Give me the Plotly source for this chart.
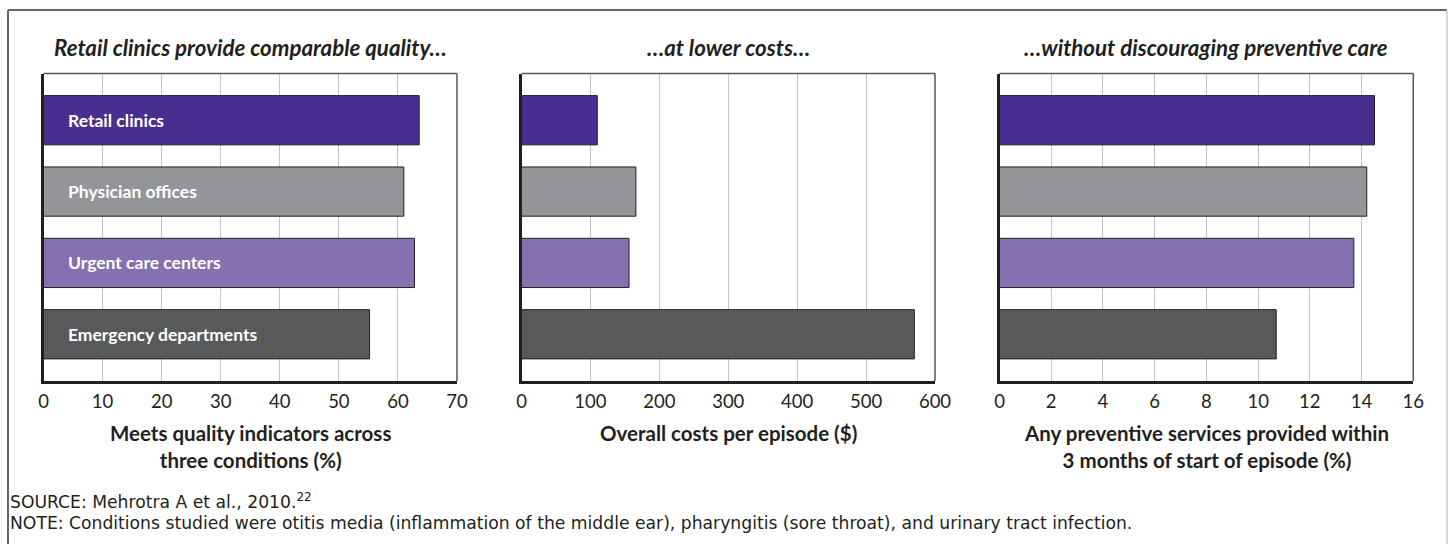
import plotly.graph_objects as go

# Care settings, listed top to bottom
settings = ["Retail clinics", "Physician offices", "Urgent care centers", "Emergency departments"]
colors = ["#482E8E", "#939598", "#8570B0", "#58595B"]

# Panel values
quality_pct = [63.6, 61.0, 62.8, 55.2]
cost_usd = [110, 166, 156, 570]
preventive_pct = [14.5, 14.2, 13.7, 10.7]

panel_titles = [
    "Retail clinics provide comparable quality…",
    "…at lower costs…",
    "…without discouraging preventive care",
]
axis_titles = [
    "Meets quality indicators across<br>three conditions (%)",
    "Overall costs per episode ($)",
    "Any preventive services provided within<br>3 months of start of episode (%)",
]
x_ranges = [[0, 70], [0, 600], [0, 16]]
x_dtick = [10, 100, 2]

source_text = "SOURCE: Mehrotra A et al., 2010.<sup>22</sup>"
note_text = ("NOTE: Conditions studied were otitis media (inflammation of the middle ear), "
             "pharyngitis (sore throat), and urinary tract infection.")

W, H = 1450, 544
FONT = "Lato"
NOTE_FONT = "DejaVu Sans"
INK = "#231F20"

# plot-area pixel boxes (left, right) and shared top/bottom
x_px = [(43.5, 457.0), (521.5, 935.0), (999.5, 1413.3)]
top_px, bot_px = 73.5, 381.0

fig = go.Figure()
series = [quality_pct, cost_usd, preventive_pct]

for i, vals in enumerate(series):
    n = "" if i == 0 else str(i + 1)
    fig.add_trace(go.Bar(
        x=vals, y=settings, orientation="h",
        marker=dict(color=colors, line=dict(color=INK, width=1)),
        width=0.69, xaxis="x" + n, yaxis="y" + n,
        showlegend=False, hoverinfo="x+y",
    ))
    l, r = x_px[i]
    fig.update_layout(**{
        "xaxis" + n: dict(
            domain=[l / W, r / W], range=x_ranges[i], dtick=x_dtick[i], tick0=0,
            showgrid=True, gridcolor="#C4C4C4", gridwidth=1, zeroline=False,
            showline=True, linecolor=INK, linewidth=3,
            ticks="", ticklabelstandoff=2,
            tickfont=dict(family=FONT, size=18.5, color=INK),
            anchor="y" + n, fixedrange=True,
        ),
        "yaxis" + n: dict(
            domain=[(H - bot_px) / H, (H - top_px) / H],
            categoryorder="array", categoryarray=settings,
            range=[3.655, -0.655], showticklabels=False, ticks="",
            showgrid=False, zeroline=False,
            showline=True, linecolor=INK, linewidth=3,
            anchor="x" + n, fixedrange=True,
        ),
    })
    # thin frame on the top and right of each plot area
    fig.add_shape(type="line", xref="x" + n + " domain", yref="y" + n + " domain",
                  x0=0, x1=1, y0=1, y1=1, line=dict(color="#555555", width=1.5))
    fig.add_shape(type="line", xref="x" + n + " domain", yref="y" + n + " domain",
                  x0=1, x1=1, y0=0, y1=1, line=dict(color="#555555", width=1.5))
    # panel heading
    fig.add_annotation(text="<b><i>" + panel_titles[i] + "</i></b>", xref="paper", yref="paper",
                       x=(l + r) / 2 / W, y=(H - 47) / H, xanchor="center", yanchor="middle",
                       showarrow=False, font=dict(family=FONT, size=22.3, color=INK))
    # axis title under tick labels
    fig.add_annotation(text="<b>" + axis_titles[i] + "</b>", xref="paper", yref="paper",
                       x=(l + r) / 2 / W, y=(H - 419) / H, xanchor="center", yanchor="top",
                       showarrow=False, align="center",
                       font=dict(family=FONT, size=20.5, color=INK))

# setting names written inside the first panel's bars
for name in settings:
    fig.add_annotation(text="<b>" + name + "</b>", x=0, y=name, xref="x", yref="y",
                       xanchor="left", yanchor="middle", xshift=22, showarrow=False,
                       font=dict(family=FONT, size=17.5, color="white"))

fig.add_annotation(text=source_text, xref="paper", yref="paper", x=8 / W, y=(H - 501) / H,
                   xanchor="left", yanchor="middle", showarrow=False,
                   font=dict(family=NOTE_FONT, size=17.2, color=INK))
fig.add_annotation(text=note_text, xref="paper", yref="paper", x=8 / W, y=(H - 522.5) / H,
                   xanchor="left", yanchor="middle", showarrow=False,
                   font=dict(family=NOTE_FONT, size=17.2, color=INK))

# outer frame
fig.add_shape(type="line", xref="paper", yref="paper", x0=8 / W, x1=1447 / W,
              y0=(H - 10) / H, y1=(H - 10) / H, line=dict(color="#666666", width=2))
fig.add_shape(type="line", xref="paper", yref="paper", x0=8 / W, x1=8 / W,
              y0=0, y1=(H - 10) / H, line=dict(color="#666666", width=2))
fig.add_shape(type="line", xref="paper", yref="paper", x0=1447 / W, x1=1447 / W,
              y0=0, y1=(H - 10) / H, line=dict(color="#CCCCCC", width=1.5))

fig.update_layout(
    width=W, height=H, autosize=False,
    margin=dict(l=0, r=0, t=0, b=0, pad=0, autoexpand=False),
    paper_bgcolor="white", plot_bgcolor="white",
    bargap=0.3, font=dict(family=FONT, color=INK),
)

fig.write_html("out.html", config={"responsive": False})
